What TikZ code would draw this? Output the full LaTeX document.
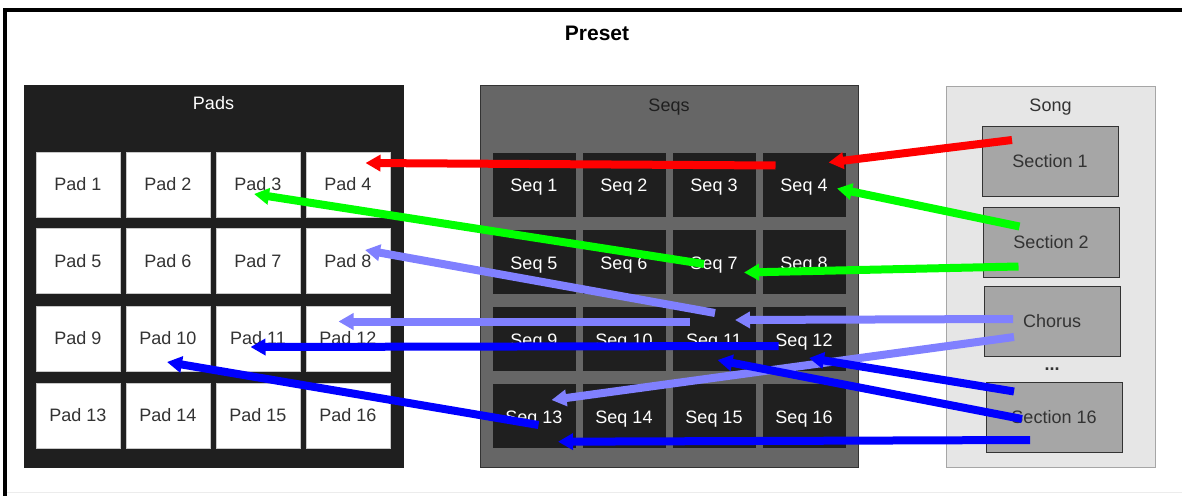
\documentclass[tikz,border=0pt]{standalone}
\usepackage{fontspec}
\setmainfont{Liberation Sans}
\usepackage{tikz}
\usetikzlibrary{shapes,arrows.meta}
\newcommand{\cellfont}{\fontsize{18}{21}\selectfont}
\definecolor{darkbox}{HTML}{1F1F1F}
\definecolor{seqbg}{HTML}{666666}
\definecolor{songbg}{HTML}{E6E6E6}
\definecolor{secbg}{HTML}{A6A6A6}
\definecolor{inkgray}{HTML}{333333}
\definecolor{padline}{HTML}{C8C8C8}
\definecolor{arrred}{HTML}{FF0000}
\definecolor{arrgreen}{HTML}{00FF00}
\definecolor{arrlight}{HTML}{8080FF}
\definecolor{arrblue}{HTML}{0000FF}
\tikzset{
	panel/.style   = {draw, rectangle, inner sep=0pt, minimum height=382pt},
	pad/.style     = {draw=padline, fill=white, text=inkgray, rectangle, inner sep=0pt,
		minimum width=84pt, minimum height=65pt, font=\cellfont},
	seq/.style     = {draw=darkbox, fill=darkbox, text=white, rectangle, inner sep=0pt,
		text height=17pt, text depth=3pt,
		minimum width=82pt, minimum height=63pt, font=\cellfont},
	section/.style = {draw=inkgray, thick, fill=secbg, text=inkgray, rectangle, inner sep=0pt,
		minimum width=136pt, minimum height=70pt, font=\cellfont},
	title/.style   = {font=\cellfont}, % panel titles
	link/.style    = {line width=8pt, -{Triangle[width=16pt,length=15pt]}} % mapping arrows
}

\begin{document}
\begin{tikzpicture}[x=1pt, y=-1pt]
	\useasboundingbox (0,0) rectangle (1182,495);
	\draw[line width=4pt] (5.3,520) -- (5.3,10) -- (1200,10);
	\draw[gray!15] (7,492) -- (1182,492);
	\draw node at (597,33)[font=\fontsize{21}{24}\selectfont\bfseries] (preset) {Preset};
	
	% panels
	\draw
	node at (213.5,276)[panel, draw=darkbox, fill=darkbox, minimum width=379pt] (pads) {}
	node at (669,276)[panel, draw=inkgray, fill=seqbg, minimum width=378pt] (seqs) {}
	node at (1050.5,276.5)[panel, draw=gray!70, thick, fill=songbg, minimum width=209pt, minimum height=381pt] (song) {}
	node at (213.5,103)[title, text=white] (padst) {Pads}
	node at (669,107)[title, text=darkbox] (seqst) {Seqs}
	node at (1050.5,107)[title, text=inkgray] (songt) {Song}
	;
	
	% pads
	\draw
	node at (78,184.5)[pad] (p1) {Pad 1}
	node at (168,184.5)[pad] (p2) {Pad 2}
	node at (258,184.5)[pad] (p3) {Pad 3}
	node at (348,184.5)[pad] (p4) {Pad 4}
	node at (78,261)[pad] (p5) {Pad 5}
	node at (168,261)[pad] (p6) {Pad 6}
	node at (258,261)[pad] (p7) {Pad 7}
	node at (348,261)[pad] (p8) {Pad 8}
	node at (78,338.5)[pad] (p9) {Pad 9}
	node at (168,338.5)[pad] (p10) {Pad 10}
	node at (258,338.5)[pad] (p11) {Pad 11}
	node at (348,338.5)[pad] (p12) {Pad 12}
	node at (78,415.5)[pad] (p13) {Pad 13}
	node at (168,415.5)[pad] (p14) {Pad 14}
	node at (258,415.5)[pad] (p15) {Pad 15}
	node at (348,415.5)[pad] (p16) {Pad 16}
	;
	
	% seqs
	\draw
	node at (534,184.5)[seq] (s1) {Seq 1}
	node at (624,184.5)[seq] (s2) {Seq 2}
	node at (714,184.5)[seq] (s3) {Seq 3}
	node at (804,184.5)[seq] (s4) {Seq 4}
	node at (534,262)[seq] (s5) {Seq 5}
	node at (624,262)[seq] (s6) {Seq 6}
	node at (714,262)[seq] (s7) {Seq 7}
	node at (804,262)[seq] (s8) {Seq 8}
	node at (534,339)[seq] (s9) {Seq 9}
	node at (624,339)[seq] (s10) {Seq 10}
	node at (714,339)[seq] (s11) {Seq 11}
	node at (804,339)[seq] (s12) {Seq 12}
	node at (534,416)[seq] (s13) {Seq 13}
	node at (624,416)[seq] (s14) {Seq 14}
	node at (714,416)[seq] (s15) {Seq 15}
	node at (804,416)[seq] (s16) {Seq 16}
	;
	
	% song
	\draw
	node at (1050,161)[section] (sec1) {Section 1}
	node at (1051,242)[section] (sec2) {Section 2}
	node at (1052,321)[section] (chorus) {Chorus}
	node at (1052,369)[font=\cellfont\bfseries, text=inkgray] (dots) {...}
	node at (1054,417)[section] (sec16) {Section 16}
	;
	
	\draw[link, arrred] ([shift={(-28.5,-19)}]s4.center) -- ([shift={(17.5,-21.5)}]p4.center);
	\draw[link, arrred] ([shift={(-38,-21)}]sec1.center) -- ([shift={(24.5,-22)}]s4.center);
	\draw[link, arrgreen] ([shift={(-31.5,-15.5)}]sec2.center) -- ([shift={(33,4)}]s4.center);
	\draw[link, arrgreen] ([shift={(-10,2)}]s7.center) -- ([shift={(-4,9.5)}]p3.center);
	\draw[link, arrgreen] ([shift={(-32.5,24.5)}]sec2.center) -- ([shift={(30,10.5)}]s7.center);
	\draw[link, arrlight] ([shift={(1,-26)}]s11.center) -- ([shift={(17,-11)}]p8.center);
	\draw[link, arrlight] ([shift={(-39,-2)}]chorus.center) -- ([shift={(21,-19)}]s11.center);
	\draw[link, arrlight] ([shift={(-24.5,-17.5)}]s11.center) -- ([shift={(-9.5,-17)}]p12.center);
	\draw[link, arrlight] ([shift={(-38,16)}]chorus.center) -- ([shift={(17.5,-16)}]s13.center);
	\draw[link, arrblue] ([shift={(-25.5,7)}]s12.center) -- ([shift={(-7.5,8.5)}]p11.center);
	\draw[link, arrblue] ([shift={(-40,-25.5)}]sec16.center) -- ([shift={(5,19)}]s12.center);
	\draw[link, arrblue] ([shift={(-32,2)}]sec16.center) -- ([shift={(3.5,21)}]s11.center);
	\draw[link, arrblue] ([shift={(4.5,9)}]s13.center) -- ([shift={(-1,23.5)}]p10.center);
	\draw[link, arrblue] ([shift={(-24,23)}]sec16.center) -- ([shift={(24,25.7)}]s13.center);
\end{tikzpicture}
\end{document}
